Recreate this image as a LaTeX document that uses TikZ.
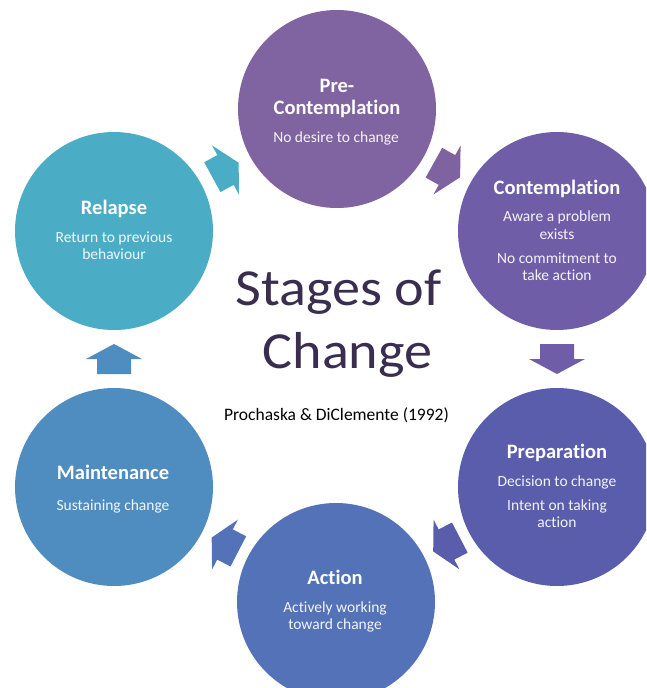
\documentclass[tikz,border=0pt]{standalone}
\usepackage{fontspec}
\setmainfont[Ligatures={NoCommon}]{Carlito}
\definecolor{precol}{RGB}{128,99,161}
\definecolor{contcol}{RGB}{111,94,167}
\definecolor{prepcol}{RGB}{90,93,172}
\definecolor{actcol}{RGB}{84,114,183}
\definecolor{maintcol}{RGB}{79,141,192}
\definecolor{relcol}{RGB}{75,172,198}
\definecolor{titlecol}{RGB}{58,46,80}
\tikzset{
  stage/.style={circle, minimum size=198pt, inner sep=0pt, draw=none},
  stitle/.style={anchor=base, text=white, inner sep=0pt, font=\bfseries\fontsize{20.5}{24}\selectfont},
  sbody/.style={anchor=base, text=white, text opacity=0.92, inner sep=0pt, font=\fontsize{15.5}{18}\selectfont},
  bigtitle/.style={anchor=base, text=titlecol, inner sep=0pt, font=\fontsize{52}{60}\selectfont},
  blockarrow/.pic={\fill[pic actions] (-15,-17) -- (0,-17) -- (0,-28) -- (15,0) -- (0,28) -- (0,17) -- (-15,17) -- cycle;}
}
\begin{document}
\begin{tikzpicture}[x=1pt,y=-1pt]
\useasboundingbox (0,0) rectangle (646,688);
\clip (0,0) rectangle (646,688);
\fill[white] (0,0) rectangle (646,688);
% circles
\node[stage, fill=precol]   (pre)   at (337,109) {};
\node[stage, fill=contcol]  (cont)  at (557,231) {};
\node[stage, fill=prepcol]  (prep)  at (557,487) {};
\node[stage, fill=actcol]   (act)   at (336,602) {};
\node[stage, fill=maintcol] (maint) at (114,487) {};
\node[stage, fill=relcol]   (rel)   at (114,231) {};
% arrows
\path (rel) -- (pre) pic[pos=0.5, sloped, allow upside down, fill=relcol] {blockarrow};
\path (pre) -- (cont) pic[pos=0.5, sloped, allow upside down, fill=precol!92!contcol] {blockarrow};
\path (cont) -- (prep) pic[pos=0.5, sloped, allow upside down, fill=contcol] {blockarrow};
\path (prep) -- (act) pic[pos=0.5, sloped, allow upside down, fill=prepcol] {blockarrow};
\path (act) -- (maint) pic[pos=0.5, sloped, allow upside down, fill=actcol] {blockarrow};
\path (maint) -- (rel) pic[pos=0.5, sloped, allow upside down, fill=maintcol] {blockarrow};
% texts
\node[stitle] (preA) at (337,92.7) {Pre-};
\node[stitle] (preB) at (337,114.3) {Contemplation};
\node[sbody]  (preC) at (336,142.7) {No desire to change};
\node[stitle] (contA) at (557,194) {Contemplation};
\node[sbody]  (contB) at (557,221.7) {Aware a problem};
\node[sbody]  (contC) at (557,239.3) {exists};
\node[sbody]  (contD) at (557,263.3) {No commitment to};
\node[sbody]  (contE) at (557,280.7) {take action};
\node[stitle] (prepA) at (557,458.3) {Preparation};
\node[sbody]  (prepB) at (557,486) {Decision to change};
\node[sbody]  (prepC) at (557,510.7) {Intent on taking};
\node[sbody]  (prepD) at (557,527.3) {action};
\node[stitle] (actA) at (335,584) {Action};
\node[sbody]  (actB) at (335,612) {Actively working};
\node[sbody]  (actC) at (335,629.3) {toward change};
\node[stitle] (maintA) at (113,479) {Maintenance};
\node[sbody]  (maintB) at (113,510) {Sustaining change};
\node[stitle] (relA) at (114,214) {Relapse};
\node[sbody]  (relB) at (114,242) {Return to previous};
\node[sbody]  (relC) at (114,259.3) {behaviour};
% centre title
\node[bigtitle] (titleA) at (338.5,305) {\scalebox{1.08}[1]{Stages of}};
\node[bigtitle] (titleB) at (347.5,368) {\scalebox{1.08}[1]{Change}};
\node[anchor=base, inner sep=0pt, font=\fontsize{17.5}{20}\selectfont] (sub) at (336.5,420.7) {Prochaska \& DiClemente (1992)};
\end{tikzpicture}
\end{document}
